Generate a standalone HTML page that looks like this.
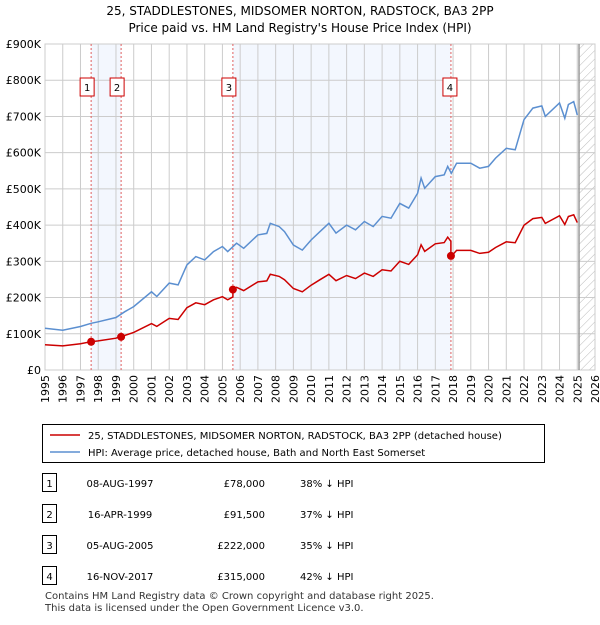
<!DOCTYPE html>
<html><head><meta charset="utf-8"><style>
body{margin:0;background:#fff;font-family:"Liberation Sans","DejaVu Sans",sans-serif;}
svg text{font-family:"DejaVu Sans","Liberation Sans",sans-serif;}
</style></head><body>
<svg width="600" height="620" xmlns="http://www.w3.org/2000/svg" id="chart">
<text x="300" y="15" text-anchor="middle" font-size="12">25, STADDLESTONES, MIDSOMER NORTON, RADSTOCK, BA3 2PP</text>
<text x="300" y="32" text-anchor="middle" font-size="12">Price paid vs. HM Land Registry's House Price Index (HPI)</text>
<defs><pattern id="hatch" width="6" height="6" patternUnits="userSpaceOnUse" patternTransform="rotate(45)"><line x1="0" y1="0" x2="0" y2="6" stroke="#bbb" stroke-width="1"/></pattern></defs>
<g id="plot"></g>
<g>
<rect x="42.5" y="424.5" width="502" height="38" fill="#fff" stroke="#000"/>
<line x1="50" y1="435" x2="80" y2="435" stroke="#cc0000" stroke-width="1.5"/>
<text x="88" y="439" font-size="10">25, STADDLESTONES, MIDSOMER NORTON, RADSTOCK, BA3 2PP (detached house)</text>
<line x1="50" y1="452" x2="80" y2="452" stroke="#5b8fd0" stroke-width="1.5"/>
<text x="88" y="456" font-size="10">HPI: Average price, detached house, Bath and North East Somerset</text>
</g>
<g id="table"></g>
<text x="45" y="599" font-size="10" fill="#333">Contains HM Land Registry data © Crown copyright and database right 2025.</text>
<text x="45" y="611" font-size="10" fill="#333">This data is licensed under the Open Government Licence v3.0.</text>
</svg>
<script>
const hpiYears=[1995,1996,1997,1997.6,1998,1999,1999.5,2000,2001,2001.3,2002,2002.5,2003,2003.5,2004,2004.5,2005,2005.3,2005.8,2006.2,2007,2007.5,2007.7,2008.2,2008.5,2009,2009.5,2010,2010.5,2011,2011.4,2012,2012.5,2013,2013.5,2014,2014.5,2015,2015.5,2016,2016.2,2016.4,2017,2017.5,2017.7,2017.9,2018.2,2019,2019.5,2020,2020.4,2021,2021.5,2022,2022.5,2023,2023.2,2024,2024.3,2024.5,2024.8,2025.0];
const hpiValues=[115,110,120,129,133,145,161,175,216,203,240,235,290,313,304,327,341,327,350,336,373,377,405,396,382,345,331,359,382,405,378,400,387,410,396,424,419,460,447,488,530,502,534,539,562,543,571,571,557,562,585,612,608,691,723,729,700,737,695,733,741,704];
const saleLabels=["1","2","3","4"];
const saleDates=[1997.6,1999.29,2005.59,2017.88];
const saleDateText=["08-AUG-1997","16-APR-1999","05-AUG-2005","16-NOV-2017"];
const salePrices=[78,91.5,222,315];
const salePriceText=["£78,000","£91,500","£222,000","£315,000"];
const salePct=["38% ↓ HPI","37% ↓ HPI","35% ↓ HPI","42% ↓ HPI"];
const yTicks=[0,100,200,300,400,500,600,700,800,900];
const yTickLabels=["£0","£100K","£200K","£300K","£400K","£500K","£600K","£700K","£800K","£900K"];
const xTicks=[1995,1996,1997,1998,1999,2000,2001,2002,2003,2004,2005,2006,2007,2008,2009,2010,2011,2012,2013,2014,2015,2016,2017,2018,2019,2020,2021,2022,2023,2024,2025,2026];

const L=45,R=595,T=44,B=370;
const xs=y=>L+(y-1995)/(2026-1995)*(R-L);
const ys=v=>B-v/900*(B-T);
const NS="http://www.w3.org/2000/svg";
const plot=document.getElementById('plot');
function mk(t,a,p){const e=document.createElementNS(NS,t);for(const k in a)e.setAttribute(k,a[k]);(p||plot).appendChild(e);return e;}
function hpiAt(y){for(let i=0;i<hpiYears.length-1;i++){if(y<=hpiYears[i+1]){const f=(y-hpiYears[i])/(hpiYears[i+1]-hpiYears[i]);return hpiValues[i]+f*(hpiValues[i+1]-hpiValues[i]);}}return hpiValues[hpiValues.length-1];}
// shading
[[0,1],[2,3]].forEach(([a,b])=>{const r=mk('rect',{x:xs(saleDates[a]),y:T,width:xs(saleDates[b])-xs(saleDates[a]),height:B-T,fill:'#eef3fd',opacity:0.7});

});
const hr=mk('rect',{x:xs(2025.1),y:T,width:R-xs(2025.1),height:B-T,fill:'url(#hatch)'});


// grid
yTicks.forEach((v,i)=>{const g=mk('line',{x1:L,x2:R,y1:ys(v),y2:ys(v),stroke:'#ccc'});


const t=mk('text',{x:L-4,y:ys(v)+4,'text-anchor':'end','font-size':11});t.textContent=yTickLabels[i];

});
xTicks.forEach(y=>{const g=mk('line',{x1:xs(y),x2:xs(y),y1:T,y2:B,stroke:'#ccc'});


const t=mk('text',{x:0,y:0,'text-anchor':'end','font-size':11,transform:`translate(${xs(y)+4},${B+5}) rotate(-90)`});t.textContent=y;

});
mk('rect',{x:L,y:T,width:R-L,height:B-T,fill:'none',stroke:'#ccc'});
const vl=mk('line',{x1:xs(2025.1),x2:xs(2025.1),y1:T,y2:B,stroke:'#999','stroke-width':1.5});


// sale markers lines
saleDates.forEach((d,i)=>{const l=mk('line',{x1:xs(d),x2:xs(d),y1:T,y2:B,stroke:'#e06060','stroke-dasharray':'2,2'});


const bx=xs(d)-(i===0?6:0)-7;
const r=mk('rect',{x:xs(d)-8-(i<3?3:0),y:78,width:14,height:18,fill:'#fff',stroke:'#cc0000'});


const t=mk('text',{x:xs(d)-1-(i<3?3:0),y:91,'text-anchor':'middle','font-size':10});t.textContent=saleLabels[i];});
// HPI line
let p='';hpiYears.forEach((y,i)=>{p+=(i?'L':'M')+xs(y).toFixed(1)+','+ys(hpiValues[i]).toFixed(1);});
const hl=mk('path',{d:p,fill:'none',stroke:'#5b8fd0','stroke-width':1.5});


// property line: HPI scaled by segment ratio
const ratios=saleDates.map((d,i)=>salePrices[i]/hpiAt(d));
function ratioAt(y){let r=ratios[0];saleDates.forEach((d,i)=>{if(y>=d)r=ratios[i];});return r;}
const pts=[];hpiYears.forEach((y,i)=>{pts.push([y,hpiValues[i]*ratioAt(y)]);});
saleDates.forEach((d,i)=>{const h=hpiAt(d);if(i>0)pts.push([d-0.001,h*ratios[i-1]]);pts.push([d,salePrices[i]]);});
pts.sort((a,b)=>a[0]-b[0]);
let q='';pts.forEach((pt,i)=>{q+=(i?'L':'M')+xs(pt[0]).toFixed(1)+','+ys(pt[1]).toFixed(1);});
const pl=mk('path',{d:q,fill:'none',stroke:'#cc0000','stroke-width':1.5});


saleDates.forEach((d,i)=>{const c=mk('circle',{cx:xs(d),cy:ys(salePrices[i]),r:4,fill:'#cc0000'});

});
// table
const tb=document.getElementById('table');
saleLabels.forEach((s,i)=>{const y=483+i*31;
const r=mk('rect',{x:42.5,y:y-9.5,width:14,height:18,fill:'#fff',stroke:'#000'},tb);
const a=mk('text',{x:49.5,y:y+4,'text-anchor':'middle','font-size':10},tb);a.textContent=s;
const b=mk('text',{x:120,y:y+4,'text-anchor':'middle','font-size':10},tb);b.textContent=saleDateText[i];


const c=mk('text',{x:265,y:y+4,'text-anchor':'end','font-size':10},tb);c.textContent=salePriceText[i];


const e=mk('text',{x:300,y:y+4,'font-size':10},tb);e.textContent=salePct[i];

});
</script>
</body></html>
